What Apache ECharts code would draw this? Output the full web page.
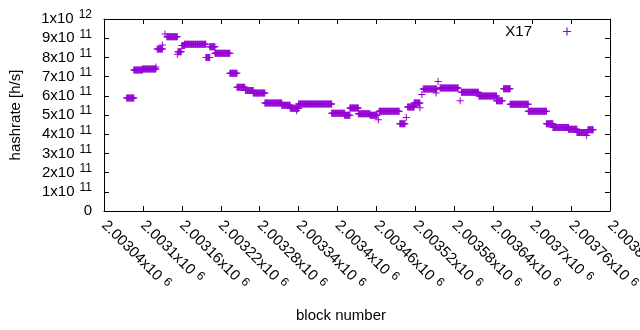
<!DOCTYPE html>
<html>
<head>
<meta charset="utf-8">
<script src="https://cdn.jsdelivr.net/npm/echarts@6/dist/echarts.min.js"></script>
<style>
  html, body { margin: 0; padding: 0; background: #fff; }
  #chart { width: 640px; height: 330px; }
</style>
</head>
<body>
<div id="chart"></div>
<script>
// runs of blocks that share the same estimated hashrate
const runStart = [2003075, 2003086, 2003099, 2003122, 2003137, 2003154, 2003160, 2003164, 2003197, 2003203,
  2003211, 2003234, 2003245, 2003258, 2003270, 2003288, 2003314, 2003327, 2003340, 2003391,
  2003411, 2003419, 2003432, 2003450, 2003464, 2003496, 2003508, 2003518, 2003532, 2003558,
  2003591, 2003618, 2003645, 2003656, 2003666, 2003694, 2003722, 2003732, 2003756, 2003769,
  2003786];
const runEnd = [2003086, 2003099, 2003120, 2003130, 2003153, 2003159, 2003164, 2003197, 2003203, 2003211,
  2003234, 2003245, 2003257, 2003270, 2003288, 2003314, 2003327, 2003340, 2003391, 2003411,
  2003419, 2003432, 2003450, 2003461, 2003495, 2003504, 2003518, 2003527, 2003553, 2003586,
  2003617, 2003645, 2003654, 2003666, 2003694, 2003722, 2003732, 2003756, 2003769, 2003786,
  2003794];
const runRate = [5.88e11, 7.34e11, 7.40e11, 8.44e11, 9.07e11, 8.30e11, 8.62e11, 8.69e11, 8.00e11, 8.56e11,
  8.22e11, 7.18e11, 6.45e11, 6.27e11, 6.15e11, 5.62e11, 5.51e11, 5.35e11, 5.57e11, 5.09e11,
  4.99e11, 5.36e11, 5.07e11, 4.99e11, 5.20e11, 4.54e11, 5.42e11, 5.62e11, 6.36e11, 6.40e11,
  6.19e11, 5.99e11, 5.74e11, 6.37e11, 5.56e11, 5.19e11, 4.55e11, 4.35e11, 4.26e11, 4.09e11,
  4.23e11];

// single blocks off their run
const outlierBlock = [2003120, 2003130, 2003134, 2003153, 2003337, 2003463, 2003506, 2003527, 2003530,
  2003552, 2003555, 2003589, 2003784];
const outlierRate = [7.50e11, 8.64e11, 9.22e11, 8.16e11, 5.22e11, 4.75e11, 4.87e11, 5.38e11, 6.07e11,
  6.15e11, 6.74e11, 5.74e11, 3.93e11];

const xTickLabels = ['2.00304', '2.0031', '2.00316', '2.00322', '2.00328', '2.00334', '2.0034',
  '2.00346', '2.00352', '2.00358', '2.00364', '2.0037', '2.00376', '2.00382'];
const yTickLabels = ['0', '1', '2', '3', '4', '5', '6', '7', '8', '9', '1'];
const yTickExp = ['', '11', '11', '11', '11', '11', '11', '11', '11', '11', '12'];

const points = [];
runStart.forEach((s, i) => {
  for (let b = s; b <= runEnd[i]; b++) points.push([b, runRate[i]]);
});
outlierBlock.forEach((b, i) => points.push([b, outlierRate[i]]));

const FONT = 'Liberation Sans';
const PLUS = 'path://M3,0h1v3h3v1h-3v3h-1v-3h-3v-1h3z';
const X_MIN = 2003040, X_STEP = 60;

const chart = echarts.init(document.getElementById('chart'), null, { renderer: 'canvas' });

const mirrorTick = { show: true, inside: true, length: 5, lineStyle: { color: '#000' } };
const axisLine = { show: true, onZero: false, lineStyle: { color: '#000', width: 1 } };

chart.setOption({
  animation: false,
  textStyle: { fontFamily: FONT, color: '#000' },
  grid: { left: 104, right: 30, top: 19, bottom: 119, containLabel: false, outerBoundsMode: 'none' },
  legend: {
    data: ['X17'],
    right: 64,
    top: 19,
    align: 'right',
    itemWidth: 60,
    itemHeight: 8,
    symbolKeepAspect: true,
    textStyle: { fontFamily: FONT, fontSize: 15, color: '#000' }
  },
  xAxis: [{
    type: 'value',
    min: X_MIN,
    max: 2003820,
    interval: X_STEP,
    name: 'block number',
    nameLocation: 'middle',
    nameGap: 97,
    nameTextStyle: { fontFamily: FONT, fontSize: 15, color: '#000', padding: [0, 32, 0, 0] },
    axisLine: axisLine,
    axisTick: mirrorTick,
    splitLine: { show: false },
    axisLabel: {
      rotate: -45,
      margin: 12,
      color: '#000',
      hideOverlap: false,
      formatter: v => {
        const i = Math.round((v - X_MIN) / X_STEP);
        return '{m|' + xTickLabels[i] + 'x10}{e|6}';
      },
      rich: {
        m: { fontFamily: FONT, fontSize: 15, color: '#000' },
        e: { fontFamily: FONT, fontSize: 12, color: '#000', padding: [0, 0, 6, 5] }
      }
    }
  }, {
    type: 'value',
    position: 'top',
    min: X_MIN,
    max: 2003820,
    interval: X_STEP,
    axisLine: axisLine,
    axisTick: mirrorTick,
    axisLabel: { show: false },
    splitLine: { show: false }
  }],
  yAxis: [{
    type: 'value',
    min: 0,
    max: 1e12,
    interval: 1e11,
    name: 'hashrate [h/s]',
    nameLocation: 'middle',
    nameGap: 81,
    nameTextStyle: { fontFamily: FONT, fontSize: 15, color: '#000' },
    axisLine: axisLine,
    axisTick: mirrorTick,
    splitLine: { show: false },
    axisLabel: {
      margin: 12,
      color: '#000',
      formatter: v => {
        const i = Math.round(v / 1e11);
        if (!yTickExp[i]) return '{m|' + yTickLabels[i] + '}';
        return '{m|' + yTickLabels[i] + 'x10}{e|' + yTickExp[i] + '}';
      },
      rich: {
        m: { fontFamily: FONT, fontSize: 15, color: '#000' },
        e: { fontFamily: FONT, fontSize: 12, color: '#000', padding: [0, 0, 8, 5] }
      }
    }
  }, {
    type: 'value',
    position: 'right',
    min: 0,
    max: 1e12,
    interval: 1e11,
    axisLine: axisLine,
    axisTick: mirrorTick,
    axisLabel: { show: false },
    splitLine: { show: false }
  }],
  series: [{
    name: 'X17',
    type: 'scatter',
    xAxisIndex: 0,
    yAxisIndex: 0,
    symbol: PLUS,
    symbolSize: 7,
    symbolKeepAspect: true,
    itemStyle: { color: '#9400d3', opacity: 1 },
    emphasis: { disabled: true },
    data: points
  }]
});
</script>
</body>
</html>
